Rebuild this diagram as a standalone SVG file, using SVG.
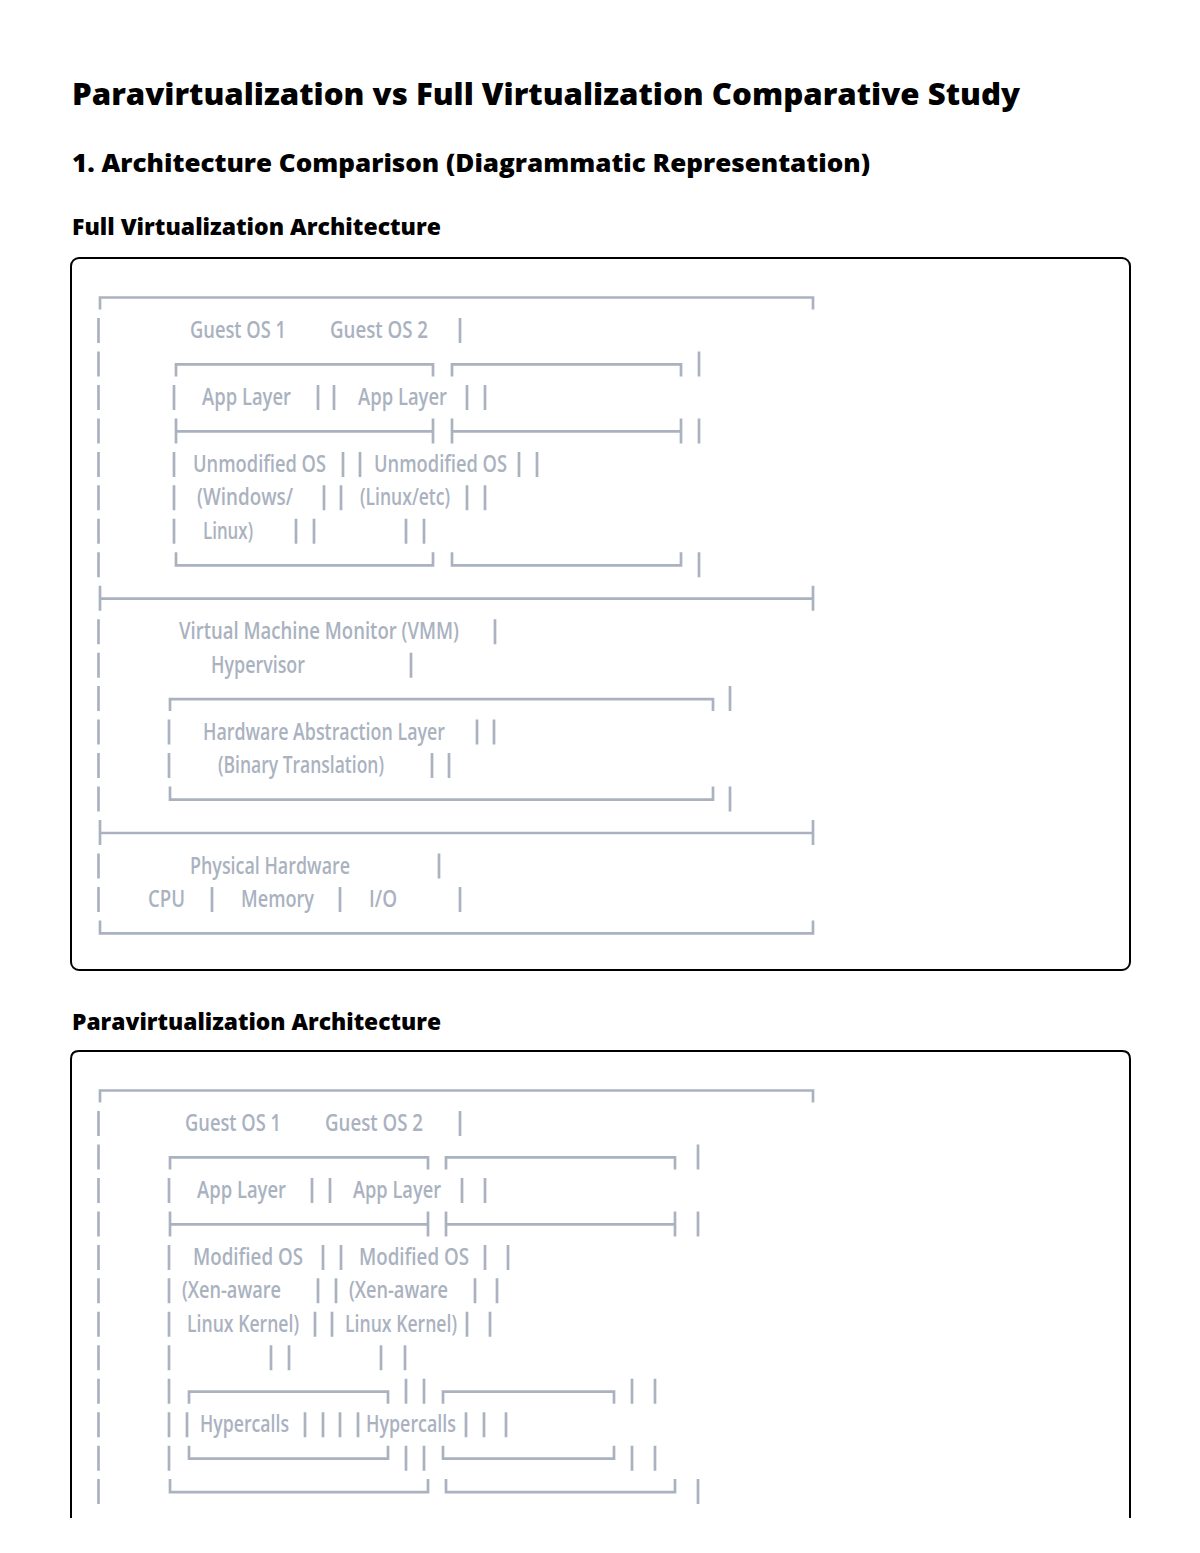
<svg xmlns="http://www.w3.org/2000/svg" width="1200" height="1553" viewBox="0 0 1200 1553">
<style>
.h{font-family:"Open Sans","Noto Sans",sans-serif;font-weight:800;fill:#000}
.t{font-family:"Open Sans","Noto Sans",sans-serif;font-size:23px;font-weight:600;fill:#aab2c0}
.l{stroke:#aab2c0;stroke-width:2.7;fill:none}
.card{fill:#fff;stroke:#000;stroke-width:2}
</style>
<rect width="1200" height="1553" fill="#fff"/>
<g id="headings">
<text class="h" x="72" y="105" font-size="30" textLength="948" lengthAdjust="spacingAndGlyphs">Paravirtualization vs Full Virtualization Comparative Study</text>
<text class="h" x="72" y="172" font-size="25" textLength="798" lengthAdjust="spacingAndGlyphs">1. Architecture Comparison (Diagrammatic Representation)</text>
<text class="h" x="72" y="235" font-size="22" textLength="369" lengthAdjust="spacingAndGlyphs">Full Virtualization Architecture</text>
<text class="h" x="72" y="1030" font-size="22" textLength="369" lengthAdjust="spacingAndGlyphs">Paravirtualization Architecture</text>
</g>
<g id="full-virtualization">
<rect class="card" x="71" y="258" width="1059" height="712" rx="8"/>
<g id="fv-lines">
<path class="l" d="M98.5 318V343M98.5 351.4V376.4M98.5 384.9V409.9M98.5 418.4V443.4M98.5 451.9V476.9M98.5 485.3V510.3M98.5 518.8V543.8M98.5 552.3V577.3M98.5 619.2V644.2M98.5 652.7V677.7M98.5 686.1V711.1M98.5 719.6V744.6M98.5 753.1V778.1M98.5 786.6V811.6M98.5 853.5V878.5M98.5 887V912"/>
<path class="l" d="M100 309.5V297.5H813V309.5M100 585.7V610.7M100 598.7H813M813 585.7V610.7M100 820V845M100 833H813M813 820V845M100 920.4V933.4H813V920.4"/>
<path class="l" d="M176 376.4V364.4H433V376.4M452 376.4V364.4H681V376.4M176 418.4V443.4M176 431.4H433M433 418.4V443.4M452 418.4V443.4M452 431.4H681M681 418.4V443.4M176 552.3V565.3H433V552.3M452 552.3V565.3H681V552.3"/>
<path class="l" d="M170 711.1V699.1H713V711.1M170 786.6V799.6H713V786.6"/>
<path class="l" d="M460 318V343M699 351.4V376.4M174 384.9V409.9M318 384.9V409.9M334 384.9V409.9M467 384.9V409.9M485 384.9V409.9M699 418.4V443.4M174 451.9V476.9M343 451.9V476.9M360 451.9V476.9M519 451.9V476.9M537 451.9V476.9M174 485.3V510.3M324 485.3V510.3M341 485.3V510.3M467 485.3V510.3M485 485.3V510.3M174 518.8V543.8M296 518.8V543.8M314 518.8V543.8M406 518.8V543.8M424 518.8V543.8M699 552.3V577.3"/>
<path class="l" d="M495 619.2V644.2M411 652.7V677.7M730 686.1V711.1M169 719.6V744.6M477 719.6V744.6M494 719.6V744.6M169 753.1V778.1M432 753.1V778.1M449 753.1V778.1M730 786.6V811.6M439 853.5V878.5M212 887V912M340 887V912M460 887V912"/>
</g>
<g id="fv-guest-os">
<text class="t" x="190" y="338" textLength="96" lengthAdjust="spacingAndGlyphs">Guest OS 1</text>
<text class="t" x="330" y="338" textLength="98" lengthAdjust="spacingAndGlyphs">Guest OS 2</text>
<text class="t" x="202" y="404.9" textLength="89" lengthAdjust="spacingAndGlyphs">App Layer</text>
<text class="t" x="358" y="404.9" textLength="89" lengthAdjust="spacingAndGlyphs">App Layer</text>
<text class="t" x="193" y="471.9" textLength="133" lengthAdjust="spacingAndGlyphs">Unmodified OS</text>
<text class="t" x="374" y="471.9" textLength="133" lengthAdjust="spacingAndGlyphs">Unmodified OS</text>
<text class="t" x="197" y="505.3" textLength="96" lengthAdjust="spacingAndGlyphs">(Windows/</text>
<text class="t" x="360" y="505.3" textLength="90" lengthAdjust="spacingAndGlyphs">(Linux/etc)</text>
<text class="t" x="203" y="538.8" textLength="50" lengthAdjust="spacingAndGlyphs">Linux)</text>
</g>
<g id="fv-vmm">
<text class="t" x="179" y="639.2" textLength="280" lengthAdjust="spacingAndGlyphs">Virtual Machine Monitor (VMM)</text>
<text class="t" x="211" y="672.7" textLength="94" lengthAdjust="spacingAndGlyphs">Hypervisor</text>
<text class="t" x="203" y="739.6" textLength="242" lengthAdjust="spacingAndGlyphs">Hardware Abstraction Layer</text>
<text class="t" x="218" y="773.1" textLength="166" lengthAdjust="spacingAndGlyphs">(Binary Translation)</text>
</g>
<g id="fv-hardware">
<text class="t" x="190" y="873.5" textLength="160" lengthAdjust="spacingAndGlyphs">Physical Hardware</text>
<text class="t" x="148" y="907" textLength="37" lengthAdjust="spacingAndGlyphs">CPU</text>
<text class="t" x="241" y="907" textLength="73" lengthAdjust="spacingAndGlyphs">Memory</text>
<text class="t" x="369" y="907" textLength="28" lengthAdjust="spacingAndGlyphs">I/O</text>
</g>
</g>
<g id="paravirtualization">
<path class="card" d="M71 1518V1059Q71 1051 79 1051H1122Q1130 1051 1130 1059V1518"/>
<g id="pv-lines">
<path class="l" d="M98.5 1111V1136M98.5 1144.4V1169.4M98.5 1177.9V1202.9M98.5 1211.4V1236.4M98.5 1244.9V1269.9M98.5 1278.3V1303.3M98.5 1311.8V1336.8M98.5 1345.3V1370.3M98.5 1378.7V1403.7M98.5 1412.2V1437.2M98.5 1445.7V1470.7M98.5 1479.1V1504.1"/>
<path class="l" d="M100 1102.5V1090.5H813V1102.5"/>
<path class="l" d="M170 1169.4V1157.4H428V1169.4M446 1169.4V1157.4H675V1169.4M170 1211.4V1236.4M170 1224.4H428M428 1211.4V1236.4M446 1211.4V1236.4M446 1224.4H675M675 1211.4V1236.4M170 1479.1V1492.1H428V1479.1M446 1479.1V1492.1H675V1479.1"/>
<path class="l" d="M189 1403.7V1391.7H388V1403.7M443 1403.7V1391.7H614V1403.7M189 1445.7V1458.7H388V1445.7M443 1445.7V1458.7H614V1445.7"/>
<path class="l" d="M460 1111V1136M698 1144.4V1169.4M169 1177.9V1202.9M312 1177.9V1202.9M330 1177.9V1202.9M462 1177.9V1202.9M485 1177.9V1202.9M698 1211.4V1236.4M169 1244.9V1269.9M323 1244.9V1269.9M341 1244.9V1269.9M485 1244.9V1269.9M508 1244.9V1269.9M169 1278.3V1303.3M318 1278.3V1303.3M336 1278.3V1303.3M475 1278.3V1303.3M497 1278.3V1303.3M169 1311.8V1336.8M315 1311.8V1336.8M332 1311.8V1336.8M467 1311.8V1336.8M490 1311.8V1336.8M169 1345.3V1370.3M271 1345.3V1370.3M289 1345.3V1370.3M381 1345.3V1370.3M405 1345.3V1370.3"/>
<path class="l" d="M169 1378.7V1403.7M406 1378.7V1403.7M424 1378.7V1403.7M632 1378.7V1403.7M655 1378.7V1403.7M169 1412.2V1437.2M187 1412.2V1437.2M305 1412.2V1437.2M323 1412.2V1437.2M340 1412.2V1437.2M358 1412.2V1437.2M466 1412.2V1437.2M484 1412.2V1437.2M506 1412.2V1437.2M169 1445.7V1470.7M406 1445.7V1470.7M424 1445.7V1470.7M632 1445.7V1470.7M655 1445.7V1470.7M698 1479.1V1504.1"/>
</g>
<g id="pv-guest-os">
<text class="t" x="185" y="1131" textLength="96" lengthAdjust="spacingAndGlyphs">Guest OS 1</text>
<text class="t" x="325" y="1131" textLength="98" lengthAdjust="spacingAndGlyphs">Guest OS 2</text>
<text class="t" x="197" y="1197.9" textLength="89" lengthAdjust="spacingAndGlyphs">App Layer</text>
<text class="t" x="353" y="1197.9" textLength="88" lengthAdjust="spacingAndGlyphs">App Layer</text>
<text class="t" x="193" y="1264.9" textLength="110" lengthAdjust="spacingAndGlyphs">Modified OS</text>
<text class="t" x="359" y="1264.9" textLength="110" lengthAdjust="spacingAndGlyphs">Modified OS</text>
<text class="t" x="182" y="1298.3" textLength="99" lengthAdjust="spacingAndGlyphs">(Xen-aware</text>
<text class="t" x="349" y="1298.3" textLength="99" lengthAdjust="spacingAndGlyphs">(Xen-aware</text>
<text class="t" x="187" y="1331.8" textLength="112" lengthAdjust="spacingAndGlyphs">Linux Kernel)</text>
<text class="t" x="345" y="1331.8" textLength="112" lengthAdjust="spacingAndGlyphs">Linux Kernel)</text>
</g>
<g id="pv-hypercalls">
<text class="t" x="200" y="1432.2" textLength="89" lengthAdjust="spacingAndGlyphs">Hypercalls</text>
<text class="t" x="366" y="1432.2" textLength="90" lengthAdjust="spacingAndGlyphs">Hypercalls</text>
</g>
</g>
</svg>
